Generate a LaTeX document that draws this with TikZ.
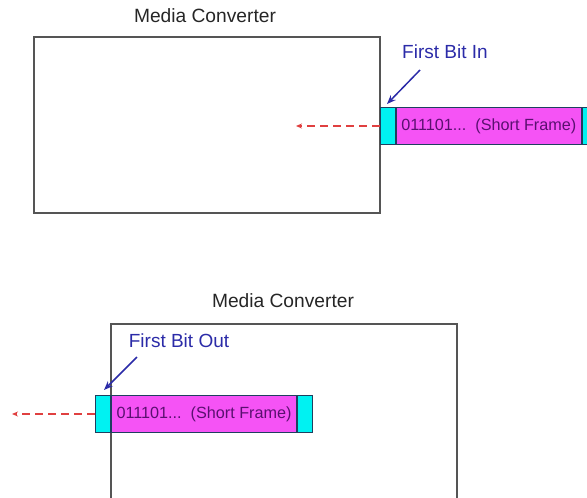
\documentclass[tikz,border=0pt]{standalone}
\usepackage{fontspec}
\setmainfont{Liberation Sans}
\usetikzlibrary{arrows.meta}
\definecolor{boxgray}{HTML}{555555}
\definecolor{cy}{HTML}{00F2F2}
\definecolor{mg}{HTML}{F553F5}
\definecolor{framecol}{HTML}{1F3F5F}
\definecolor{bluelab}{HTML}{2B2BA8}
\definecolor{redarr}{HTML}{E04040}
\definecolor{txtpurple}{HTML}{5A1070}
\tikzset{
  converter/.style={draw=boxgray, line width=1.4pt, fill=white, rectangle, inner sep=0pt},
  endcell/.style={draw=framecol, line width=0.8pt, fill=cy, rectangle, inner sep=0pt, minimum width=15.5pt, minimum height=37.5pt},
  bodycell/.style={draw=framecol, line width=0.8pt, fill=mg, rectangle, inner sep=0pt, minimum width=185pt, minimum height=37.5pt, font=\fontsize{16.2}{18}\selectfont, text=txtpurple},
  title/.style={font=\fontsize{19.2}{21}\selectfont, text=black!85, inner sep=0pt},
  bitlabel/.style={font=\fontsize{19}{21}\selectfont, text=bluelab, inner sep=0pt},
  bitarrow/.style={draw=bluelab, line width=1.5pt, -{Stealth[length=9pt,width=7pt]}},
  flowarrow/.style={draw=redarr, line width=1.5pt, dash pattern=on 8pt off 5pt, -{Stealth[length=6pt,width=5pt]}}
}
\begin{document}
\begin{tikzpicture}[x=1pt,y=-1pt]
\useasboundingbox (0,0) rectangle (587,498);
% top converter
\node[title] (t1) at (205,16) {Media Converter};
\node[converter, minimum width=346pt, minimum height=176pt] (mc1) at (207,125) {};
\node[endcell] (c1a) at (387.75,126) {};
\node[bodycell, anchor=west] (f1) at (c1a.east) {011101...\ \ (Short Frame)};
\node[endcell, anchor=west] (c1b) at (f1.east) {};
\node[bitlabel] (l1) at (445,52) {First Bit In};
\coordinate (l1s) at (420,70);
\coordinate (l1e) at (387,104);
\draw[bitarrow] (l1s) -- (l1e);
\coordinate (r1e) at (296,126);
\draw[flowarrow] (c1a.west) -- (r1e);
% bottom converter
\node[title] (t2) at (283,301) {Media Converter};
\node[converter, minimum width=346pt, minimum height=200pt] (mc2) at (284,424) {};
\node[endcell] (c2a) at (103,414) {};
\node[bodycell, anchor=west] (f2) at (c2a.east) {011101...\ \ (Short Frame)};
\node[endcell, anchor=west] (c2b) at (f2.east) {};
\node[bitlabel] (l2) at (179,341) {First Bit Out};
\coordinate (l2s) at (137,357);
\coordinate (l2e) at (104,390);
\draw[bitarrow] (l2s) -- (l2e);
\coordinate (r2e) at (12,414);
\draw[flowarrow] (c2a.west) -- (r2e);
\end{tikzpicture}
\end{document}
